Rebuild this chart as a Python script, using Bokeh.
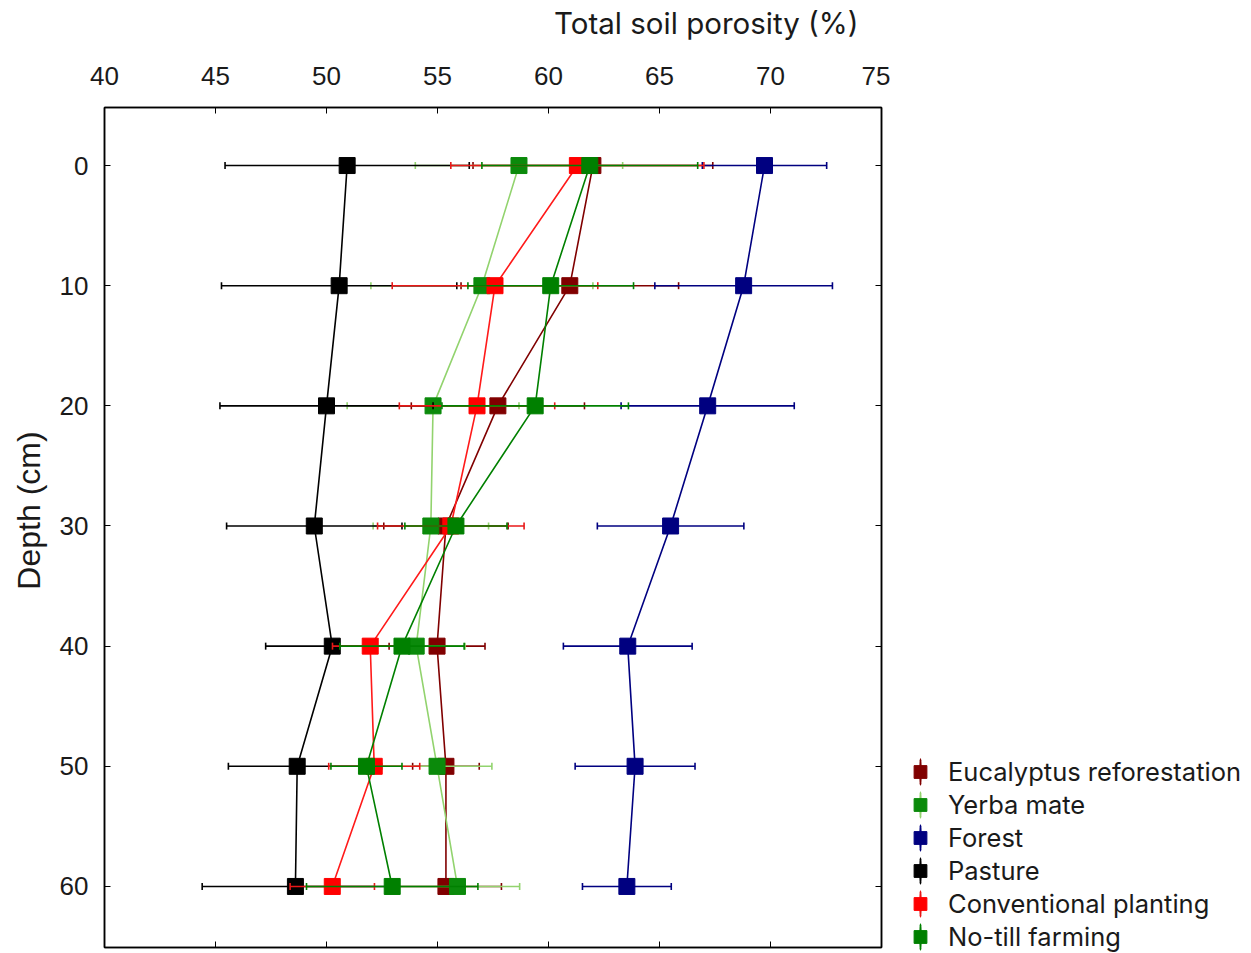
import numpy as np
from bokeh.plotting import figure
from bokeh.layouts import row, column
from bokeh.models import (Range1d, LinearAxis, FixedTicker, Legend, LegendItem,
                          ColumnDataSource, Title)
from bokeh.embed import file_html
from bokeh.resources import INLINE

# ---------------- data ----------------
depth = [0, 10, 20, 30, 40, 50, 60]
x_ticks = [40, 45, 50, 55, 60, 65, 70, 75]
y_ticks = [0, 10, 20, 30, 40, 50, 60]

series_names = ["Eucalyptus reforestation", "Yerba mate", "Forest", "Pasture",
                "Conventional planting", "No-till farming"]

eucalyptus = [62.0, 60.96, 57.72, 55.38, 54.98, 55.38, 55.38]
eucalyptus_sd = [5.4, 4.9, 3.9, 2.8, 2.16, 1.5, 2.5]

yerba_mate = [58.67, 57.0, 54.8, 54.7, 54.04, 54.98, 55.9]
yerba_mate_sd = [4.67, 5.0, 3.87, 2.6, 2.2, 2.47, 2.8]

forest = [69.73, 68.79, 67.17, 65.5, 63.57, 63.9, 63.53]
forest_sd = [2.8, 4.0, 3.9, 3.3, 2.9, 2.7, 2.0]

pasture = [50.93, 50.57, 50.0, 49.45, 50.26, 48.68, 48.6]
pasture_sd = [5.5, 5.3, 4.8, 3.95, 3.0, 3.1, 4.2]

conventional = [61.3, 57.59, 56.78, 55.6, 51.97, 52.15, 50.26]
conventional_sd = [5.7, 4.63, 3.5, 3.3, 1.7, 2.05, 1.9]

no_till = [61.86, 60.1, 59.4, 55.83, 53.4, 51.8, 52.96]
no_till_sd = [4.86, 3.73, 4.2, 2.3, 2.8, 1.6, 3.86]

means = [eucalyptus, yerba_mate, forest, pasture, conventional, no_till]
sds = [eucalyptus_sd, yerba_mate_sd, forest_sd, pasture_sd, conventional_sd, no_till_sd]

# styles: (marker colour, line colour, error-bar colour)
styles = [
    ("#800000", "#800000", "#800000"),
    ("#0b8a0b", "#92d36e", "#92d36e"),
    ("#000080", "#000080", "#000080"),
    ("#000000", "#000000", "#000000"),
    ("#ff0000", "#ff1a1a", "#e81818"),
    ("#008000", "#008000", "#008000"),
]

TICK_FONT = "'Liberation Sans', Arial, sans-serif"
LABEL_FONT = "Inter, 'Open Sans', sans-serif"
TEXT_COLOR = "#1a1a1a"

# ---------------- title strip ----------------
tfig = figure(width=890, height=50, output_backend="svg", toolbar_location=None,
              title=None, x_axis_location=None, y_axis_location=None,
              x_range=Range1d(0, 1), y_range=Range1d(0, 1),
              min_border_left=104, min_border_right=9, min_border_top=0,
              min_border_bottom=0)
tfig.outline_line_color = None
tfig.grid.visible = False
tfig.add_layout(Title(text="Total soil porosity (%)", align="right", offset=23,
                      vertical_align="middle", standoff=6, text_font=LABEL_FONT,
                      text_font_size="29.5px", text_font_style="normal",
                      text_color=TEXT_COLOR), "above")

# ---------------- main plot ----------------
p = figure(width=890, height=903, output_backend="svg", toolbar_location=None,
           title=None, x_range=Range1d(40, 75), y_range=Range1d(65.08, -4.83),
           x_axis_location="above", min_border_left=104, min_border_top=57,
           min_border_bottom=6, min_border_right=9)

p.grid.visible = False
p.outline_line_color = "#000000"
p.outline_line_width = 1.5

xa = p.xaxis[0]
xa.ticker = FixedTicker(ticks=x_ticks)
xa.major_label_text_font = TICK_FONT
xa.major_label_text_font_size = "26px"
xa.major_label_text_color = TEXT_COLOR
xa.major_tick_in = 6
xa.major_tick_out = 0
xa.minor_tick_line_color = None
xa.major_label_standoff = 23
xa.axis_line_width = 1.5

ya = p.yaxis[0]
ya.ticker = FixedTicker(ticks=y_ticks)
ya.major_label_text_font = TICK_FONT
ya.major_label_text_font_size = "26px"
ya.major_label_text_color = TEXT_COLOR
ya.major_tick_in = 6
ya.major_tick_out = 0
ya.minor_tick_line_color = None
ya.major_label_standoff = 16
ya.axis_line_width = 1.5

# y-axis title, placed along the left side
p.add_layout(Title(text="Depth  (cm)", align="right", offset=315,
                   vertical_align="top", standoff=16, text_font=TICK_FONT,
                   text_font_size="32px", text_font_style="normal",
                   text_color=TEXT_COLOR), "left")

# unlabeled mirror axes (ticks only)
xb = LinearAxis(ticker=FixedTicker(ticks=x_ticks), major_tick_in=6, major_tick_out=0,
                minor_tick_line_color=None, major_label_text_font_size="0px",
                major_label_text_color=None, major_label_standoff=0,
                axis_line_width=1.5)
p.add_layout(xb, "below")
yr = LinearAxis(ticker=FixedTicker(ticks=y_ticks), major_tick_in=6, major_tick_out=0,
                minor_tick_line_color=None, major_label_text_font_size="0px",
                major_label_text_color=None, major_label_standoff=0,
                axis_line_width=1.5)
p.add_layout(yr, "right")

# ---------------- legend strip ----------------
lfig = figure(width=361, height=953, output_backend="svg", toolbar_location=None,
              title=None, x_axis_location=None, y_axis_location=None,
              x_range=Range1d(0, 1), y_range=Range1d(0, 1), min_border=0)
lfig.outline_line_color = None
lfig.grid.visible = False

legend_items = []
for name, m, s, (mc, lc, bc) in zip(series_names, means, sds, styles):
    m = np.array(m, dtype=float)
    s = np.array(s, dtype=float)
    src = ColumnDataSource(dict(y=depth, x=m, lo=m - s, hi=m + s))
    p.segment(x0="lo", y0="y", x1="hi", y1="y", source=src, line_color=bc, line_width=1.6)
    p.scatter(x="lo", y="y", source=src, marker="dash", angle=np.pi / 2, size=7,
              line_color=bc, line_width=1.6)
    p.scatter(x="hi", y="y", source=src, marker="dash", angle=np.pi / 2, size=7,
              line_color=bc, line_width=1.6)
    p.line(x="x", y="y", source=src, line_color=lc, line_width=1.6)
    p.scatter(x="x", y="y", source=src, marker="square", size=16,
              fill_color=mc, line_color=mc)

    # legend swatch: vertical error bar + square marker
    dummy = ColumnDataSource(dict(x=np.array([np.nan]), y=np.array([np.nan])))
    bar = lfig.ellipse(x="x", y="y", width=0.5, height=30, width_units="screen",
                       height_units="screen", source=dummy, fill_color=bc,
                       line_color=bc, line_width=2)
    sq = lfig.scatter(x="x", y="y", source=dummy, marker="square", size=16,
                      fill_color=mc, line_color=mc)
    legend_items.append(LegendItem(label=name, renderers=[bar, sq]))

legend = Legend(items=legend_items, location=(14, 0), orientation="vertical",
                glyph_width=32, glyph_height=33, label_height=33, spacing=0,
                padding=0, margin=0, label_standoff=12,
                label_text_font=LABEL_FONT, label_text_font_size="25.5px",
                label_text_color=TEXT_COLOR, border_line_color=None,
                background_fill_alpha=0)
lfig.add_layout(legend, "center")

layout = row(column(tfig, p), lfig)
open("out.html", "w").write(file_html(layout, INLINE))
